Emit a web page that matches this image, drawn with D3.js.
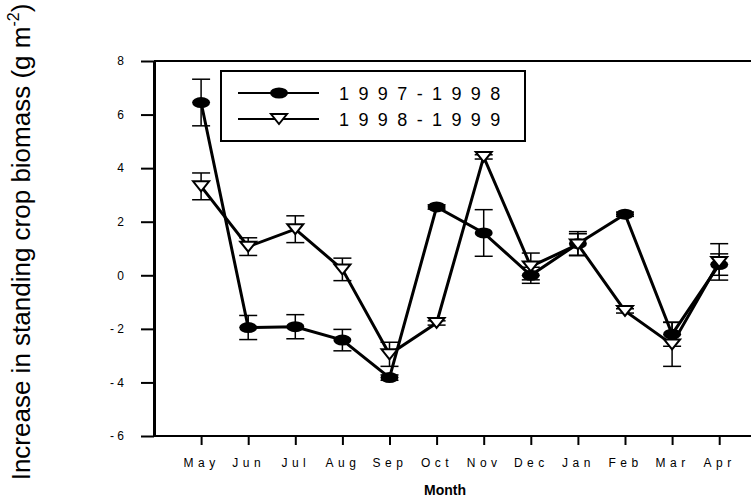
<!DOCTYPE html>
<html>
<head>
<meta charset="utf-8">
<script src="https://cdn.jsdelivr.net/npm/d3@7"></script>
<style>
  body { margin: 0; background: #fff; }
  text { font-family: "Liberation Sans", Arial, sans-serif; }
</style>
</head>
<body>
<div class="chart"></div>
<script>
// data
var months = ["May", "Jun", "Jul", "Aug", "Sep", "Oct", "Nov", "Dec", "Jan", "Feb", "Mar", "Apr"];
var y9798 = [6.45, -1.95, -1.92, -2.42, -3.82, 2.55, 1.58, 0.0, 1.18, 2.28, -2.2, 0.4];
var err9798 = [0.87, 0.45, 0.45, 0.4, 0.1, 0.08, 0.87, 0.3, 0.45, 0.08, 0.45, 0.4];
var y9899 = [3.32, 1.07, 1.72, 0.22, -2.95, -1.78, 4.42, 0.33, 1.15, -1.33, -2.58, 0.5];
var err9899 = [0.5, 0.33, 0.5, 0.42, 0.45, 0.08, 0.08, 0.5, 0.4, 0.08, 0.82, 0.68];
var yTicks = [-6, -4, -2, 0, 2, 4, 6, 8];

var svgWidth = 751;
var svgHeight = 502;

var svg = d3.select(".chart")
  .append("svg")
  .attr("width", svgWidth)
  .attr("height", svgHeight);

// x positions by month index; index -1 sits on the y axis
var x = d3.scaleLinear()
  .domain([-1, 12])
  .range([154, 154 + 13 * 47.1]);

var y = d3.scaleLinear()
  .domain([-6, 8])
  .range([436, 61]);

// frame: top line and bottom axis run off the right edge
svg.append("line")
  .attr("x1", x(-1)).attr("x2", svgWidth)
  .attr("y1", y(8)).attr("y2", y(8))
  .attr("stroke", "#000").attr("stroke-width", 2);

var bottomAxis = d3.axisBottom(x)
  .tickValues(d3.range(months.length))
  .tickSize(9)
  .tickSizeOuter(0)
  .tickFormat(i => months[i]);

var gx = svg.append("g")
  .attr("transform", `translate(0, ${y(-6)})`)
  .call(bottomAxis);
gx.select(".domain").remove();
gx.append("line")
  .attr("x1", x(-1)).attr("x2", svgWidth)
  .attr("stroke", "#000").attr("stroke-width", 2);
gx.selectAll(".tick line").attr("stroke-width", 2);
gx.selectAll(".tick text")
  .attr("x", 0)
  .attr("y", 22)
  .attr("font-size", "12px")
  .attr("letter-spacing", "4.5px")
  .attr("fill", "#000")
  .attr("font-family", "Liberation Sans, Arial, sans-serif");

var leftAxis = d3.axisLeft(y)
  .tickValues(yTicks)
  .tickSize(13)
  .tickSizeOuter(0)
  .tickFormat(d => d < 0 ? "- " + Math.abs(d) : d);

var gy = svg.append("g")
  .attr("transform", `translate(${x(-1)}, 0)`)
  .call(leftAxis);
gy.select(".domain").attr("stroke-width", 3);
gy.selectAll(".tick line").attr("stroke-width", 2);
gy.selectAll(".tick text")
  .attr("x", -30)
  .attr("font-size", "12px")
  .attr("fill", "#000")
  .attr("font-family", "Liberation Sans, Arial, sans-serif");

// axis titles
svg.append("text")
  .attr("x", 445)
  .attr("y", 495)
  .attr("text-anchor", "middle")
  .attr("font-size", "14px")
  .attr("font-weight", "bold")
  .text("Month");

var yTitle = svg.append("text")
  .attr("transform", "translate(30, 242) rotate(-90)")
  .attr("text-anchor", "middle")
  .attr("font-size", "26px");
yTitle.append("tspan").text("Increase in standing crop biomass (g m");
yTitle.append("tspan").attr("font-size", "16px").attr("dy", -11).text("-2");
yTitle.append("tspan").attr("dy", 11).text(")");

var series = [
  { name: "1 9 9 7 - 1 9 9 8", vals: y9798, errs: err9798, marker: "circle" },
  { name: "1 9 9 8 - 1 9 9 9", vals: y9899, errs: err9899, marker: "tri" }
];

var line = d3.line()
  .x((d, i) => x(i))
  .y(d => y(d));

function drawMarker(g, type) {
  if (type === "circle") {
    g.append("ellipse").attr("rx", 9).attr("ry", 5.5).attr("fill", "#000");
  } else {
    g.append("path")
      .attr("d", "M-8,-5L8,-5L0,5Z")
      .attr("fill", "#fff")
      .attr("stroke", "#000")
      .attr("stroke-width", 2);
  }
}

// error bars first, then lines, then markers
series.forEach(function(s) {
  var eb = svg.append("g");
  s.vals.forEach(function(v, i) {
    var top = y(v + s.errs[i]), bot = y(v - s.errs[i]);
    eb.append("line").attr("x1", x(i)).attr("x2", x(i)).attr("y1", top).attr("y2", bot)
      .attr("stroke", "#000").attr("stroke-width", 1.5);
    [top, bot].forEach(function(yy) {
      eb.append("line").attr("x1", x(i) - 9).attr("x2", x(i) + 9).attr("y1", yy).attr("y2", yy)
        .attr("stroke", "#000").attr("stroke-width", 1.5);
    });
  });
});

series.forEach(function(s) {
  svg.append("path")
    .datum(s.vals)
    .attr("d", line)
    .attr("fill", "none")
    .attr("stroke", "#000")
    .attr("stroke-width", 3);
});

series.forEach(function(s) {
  s.vals.forEach(function(v, i) {
    var g = svg.append("g").attr("transform", `translate(${x(i)}, ${y(v)})`);
    drawMarker(g, s.marker);
  });
});

// legend
var legend = svg.append("g");
legend.append("rect")
  .attr("x", 221).attr("y", 71)
  .attr("width", 304).attr("height", 70)
  .attr("fill", "#fff")
  .attr("stroke", "#000")
  .attr("stroke-width", 2);

series.forEach(function(s, k) {
  var ly = 93 + k * 26;
  legend.append("line")
    .attr("x1", 238).attr("x2", 319)
    .attr("y1", ly).attr("y2", ly)
    .attr("stroke", "#000").attr("stroke-width", 2);
  var g = legend.append("g").attr("transform", `translate(279, ${ly})`);
  drawMarker(g, s.marker);
  legend.append("text")
    .attr("x", 339)
    .attr("y", ly + 7)
    .attr("font-size", "18px")
    .attr("letter-spacing", "2.2px")
    .text(s.name);
});
</script>
</body>
</html>
